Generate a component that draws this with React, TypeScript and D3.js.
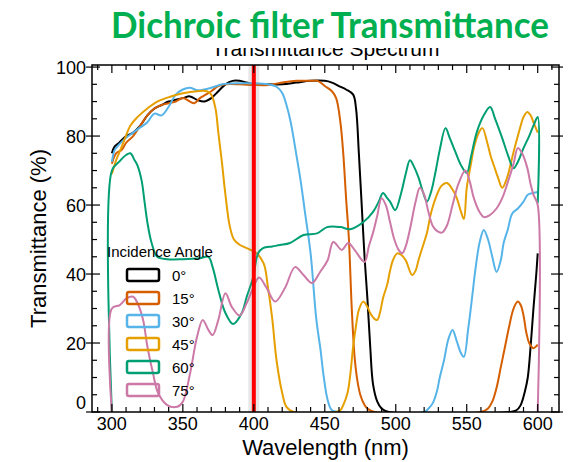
import { useRef, useEffect } from "react";
import * as d3 from "d3";

type Pt = [number, number];

// [wavelength nm, transmittance %]
const deg0: Pt[] = [
  [300, 75], [302, 77], [305, 78], [310, 80], [315, 81], [320, 83], [325, 86], [330, 88],
  [335, 89], [340, 90], [345, 90.5], [350, 91], [355, 91.5], [360, 90.5], [365, 90], [370, 91],
  [375, 93], [380, 95], [385, 96], [390, 96], [395, 95.5], [400, 95], [410, 95], [420, 95],
  [430, 95.5], [440, 96], [450, 96], [455, 95.5], [460, 94.5], [465, 93.5], [470, 92], [472, 88],
  [474, 75], [476, 60], [478, 45], [480, 33], [482, 19], [484, 8], [487, 3], [490, 1], [495, 0],
  [580, 0], [585, 0.5], [588, 2], [591, 6], [593, 10], [595, 19], [597, 30], [599, 40], [600, 46],
];

const deg15: Pt[] = [
  [300, 72], [303, 75], [307, 76], [310, 78], [315, 80], [320, 83], [325, 86], [330, 88],
  [335, 89], [340, 89.5], [345, 90], [350, 91], [355, 90], [358, 89.5], [362, 91], [366, 92],
  [370, 93], [375, 94.5], [380, 95], [390, 95], [400, 94.8], [410, 94.8], [420, 95.5], [430, 96],
  [440, 96], [445, 96], [450, 94.5], [455, 93], [458, 91], [461, 84], [463, 75], [465, 62],
  [467, 50], [469, 30], [471, 16], [473, 9], [475, 5], [478, 2], [480, 1], [485, 0], [560, 0],
  [565, 1], [568, 3], [571, 7], [574, 13], [577, 19], [580, 25], [583, 30], [586, 32], [588, 31],
  [590, 28], [592, 23], [594, 20], [597, 18.5], [600, 19.5],
];

const deg30: Pt[] = [
  [300, 72.5], [302, 76], [305, 77.5], [310, 79.5], [315, 81], [320, 82.5], [325, 84], [330, 86.5],
  [335, 86], [340, 88.5], [345, 92], [350, 93.5], [355, 94], [360, 93.3], [365, 93.5], [370, 94],
  [378, 95], [390, 95.3], [400, 95.3], [410, 95], [416, 94.3], [420, 92.5], [423, 89], [426, 84],
  [430, 74.5], [433, 67], [436, 58], [440, 46], [444, 27], [447, 18], [449, 11], [452, 3.5],
  [455, 0.5], [460, 0], [520, 0], [523, 1], [526, 2.5], [529, 6], [531, 10], [534, 15], [537, 21],
  [540, 23.8], [543, 20.5], [546, 17], [548, 16], [551, 24], [554, 34], [556, 41], [559, 49],
  [562, 52.8], [565, 50], [568, 45], [571, 40.6], [574, 44], [576, 49], [579, 53], [582, 57.5],
  [586, 59], [590, 61], [593, 63], [597, 63.5], [600, 63.8],
];

const deg45: Pt[] = [
  [300, 69], [303, 73], [305, 75], [308, 78], [313, 83], [318, 85.5], [325, 88], [332, 90],
  [341, 91.4], [350, 92.4], [360, 93], [367, 93], [370, 92], [373, 88], [375, 81], [377.5, 72.5],
  [380, 63], [383, 54], [386, 50], [390, 48.5], [395, 47.5], [402, 46], [407, 43], [410, 36],
  [413, 27], [416, 15], [420, 5.5], [423, 1.5], [428, 0], [458, 0], [461, 0.5], [463, 2],
  [466, 5.5], [468, 11], [470, 19], [472, 25], [474, 29.6], [477, 32], [480, 30.5], [482, 28.7],
  [485, 27], [487, 26.7], [489, 29], [491, 33], [494, 37], [496, 41], [498, 44], [501, 46],
  [504, 45.5], [507, 44], [511.5, 39.7], [514, 41], [516, 44], [519, 48], [522, 52], [525, 58],
  [529, 63], [532, 65.5], [536, 66.4], [540, 64.5], [543, 62], [546, 58], [548, 56], [550, 65],
  [553, 72], [555, 76.5], [558, 80.5], [561, 82.3], [564.5, 78], [567, 74], [569, 71.6], [572, 68],
  [575, 65], [578.5, 68], [581, 72], [583, 75.4], [586, 80], [588, 83], [590, 85.5], [592.7, 87],
  [595, 86], [597, 84], [600, 81],
];

const deg60: Pt[] = [
  [300, 0], [300, 70], [305, 72.5], [310, 74.5], [313, 75], [316, 73], [318, 71.5], [321, 67],
  [323, 61], [325, 55], [328, 49], [332, 45], [339, 44.3], [350, 44.3], [362, 44.6], [368, 45],
  [371, 42], [375, 35.4], [380, 28.7], [385.5, 25.5], [391.5, 28.7], [395, 33.4], [399.5, 39],
  [403, 46], [406.5, 47.5], [413, 48], [418.5, 48.4], [425.5, 49], [435, 51.3], [444.6, 51.8],
  [451.6, 53.6], [461, 53.6], [468, 53], [477, 55], [484, 58], [488, 61], [491, 63.5], [494, 62],
  [496, 61], [499.6, 58.5], [504, 63.8], [507, 69], [510, 73], [513, 71], [516, 68], [519, 64],
  [522, 61], [525, 64], [528, 69.6], [531, 76], [535, 82.3], [538, 79.5], [542, 75.4], [546, 71.5],
  [550, 69.3], [553, 74], [557, 81], [562, 86], [566.5, 88.4], [570, 85], [575, 79.4], [579, 74.5],
  [583, 70.7], [586, 72.5], [590, 76.5], [594, 80], [597, 83], [600, 85.5], [600, 60.5],
];

const deg75: Pt[] = [
  [300, 0], [300, 30], [305.6, 31], [310.5, 33], [315, 33.4], [318, 31.6], [322, 26.7], [325, 19],
  [329, 11.2], [332.6, 5.5], [339, 2], [346, 1.5], [350, 3], [355, 11], [360, 21.8], [364, 26.7],
  [368, 23.8], [371, 22.3], [375, 26.7], [380, 34.4], [384.6, 30.4], [390, 28], [395, 31.6],
  [399.5, 36], [403.7, 39], [409, 36], [415, 32], [422, 36], [429, 42], [435, 39.7], [441, 37.4],
  [446.7, 40.6], [452, 44], [456, 49.3], [462, 47], [466.5, 49], [471, 47], [478, 43.5], [481, 48],
  [484, 52], [487, 57], [490, 62], [493, 60], [496, 55], [499, 50], [502, 47], [504.5, 46],
  [507, 48], [510, 53], [514, 61], [517, 65], [520, 63], [523, 58], [526, 54], [529, 52.5],
  [532.5, 52], [536, 54], [540, 60], [544, 66], [549, 70], [552, 67], [555, 62], [559, 58],
  [562, 56.5], [566, 57], [571, 59], [575, 62], [579, 66.7], [583, 72], [586, 76.5], [589, 75],
  [592.7, 70.7], [595, 66], [597, 63], [600, 60], [600, 0],
];

const seriesNames = ["0°", "15°", "30°", "45°", "60°", "75°"];
const seriesData = [deg0, deg15, deg30, deg45, deg60, deg75];
const seriesColors = ["#000000", "#D55E00", "#56B4E9", "#E69F00", "#009E73", "#CC79A7"];

const xTicks = [300, 350, 400, 450, 500, 550, 600];
const yTicks = [0, 20, 40, 60, 80, 100];
const markerWavelength = 400;

export default function App() {
  const svgRef = useRef<SVGSVGElement>(null);

  useEffect(() => {
    if (!svgRef.current) return;
    const svg = d3.select(svgRef.current);
    svg.selectAll("*").remove();

    const W = 572, H = 462;
    const left = 92, right = 559, top = 65, bottom = 412;
    const font = "'Liberation Sans', Arial, sans-serif";

    svg.attr("width", W).attr("height", H);
    svg.append("rect").attr("width", W).attr("height", H).attr("fill", "#fff");

    const x = d3.scaleLinear().domain([286, 615]).range([left, right]);
    const y = d3.scaleLinear().domain([0, 100.6]).range([bottom, top]);

    // Big green title
    svg.append("text")
      .attr("x", 111).attr("y", 38)
      .attr("font-family", "Lato, 'Open Sans', sans-serif")
      .attr("font-weight", 700).attr("font-size", 36)
      .attr("fill", "#00B050")
      .attr("textLength", 438).attr("lengthAdjust", "spacingAndGlyphs")
      .text("Dichroic filter Transmittance");

    // Plot title, mostly hidden behind the big title
    const defs = svg.append("defs");
    defs.append("clipPath").attr("id", "subclip")
      .append("rect").attr("x", 0).attr("y", 48).attr("width", W).attr("height", 30);
    svg.append("text")
      .attr("clip-path", "url(#subclip)")
      .attr("x", (left + right) / 2).attr("y", 56)
      .attr("text-anchor", "middle")
      .attr("font-family", font).attr("font-size", 21)
      .text("Transmittance Spectrum");

    defs.append("clipPath").attr("id", "plotclip")
      .append("rect").attr("x", left).attr("y", top).attr("width", right - left).attr("height", bottom - top);

    // Curves
    const line = d3.line<Pt>()
      .x((d) => x(d[0]))
      .y((d) => y(d[1]))
      .curve(d3.curveCatmullRom.alpha(0.5));

    const g = svg.append("g").attr("clip-path", "url(#plotclip)");
    seriesData.forEach((data, i) => {
      g.append("path")
        .attr("d", line(data))
        .attr("fill", "none")
        .attr("stroke", seriesColors[i])
        .attr("stroke-width", 2)
        .attr("stroke-linejoin", "round");
    });

    // Marker line at 400 nm
    svg.append("line")
      .attr("x1", x(markerWavelength)).attr("x2", x(markerWavelength))
      .attr("y1", top).attr("y2", bottom)
      .attr("stroke", "#888").attr("stroke-opacity", 0.2).attr("stroke-width", 11);
    svg.append("line")
      .attr("x1", x(markerWavelength)).attr("x2", x(markerWavelength))
      .attr("y1", top).attr("y2", bottom)
      .attr("stroke", "#FF0000").attr("stroke-width", 4);

    // Ticks
    const tk = svg.append("g").attr("stroke", "#000").attr("stroke-width", 1.2);
    d3.range(290, 611, 10).forEach((v) => {
      const major = v % 50 === 0;
      const len = major ? 8 : 5;
      tk.append("line").attr("x1", x(v)).attr("x2", x(v)).attr("y1", bottom).attr("y2", bottom - len);
      tk.append("line").attr("x1", x(v)).attr("x2", x(v)).attr("y1", top).attr("y2", top + len);
    });
    d3.range(0, 101, 5).forEach((v) => {
      const major = v % 20 === 0;
      const len = major ? 8 : 5;
      tk.append("line").attr("y1", y(v)).attr("y2", y(v)).attr("x1", left - (major ? 6 : 0)).attr("x2", left + len);
      tk.append("line").attr("y1", y(v)).attr("y2", y(v)).attr("x1", right - len).attr("x2", right + (major ? 4 : 0));
    });

    // Frame
    svg.append("rect")
      .attr("x", left).attr("y", top)
      .attr("width", right - left).attr("height", bottom - top)
      .attr("fill", "none").attr("stroke", "#000").attr("stroke-width", 1.5);

    // Tick labels
    svg.append("g").selectAll("text").data(xTicks).join("text")
      .attr("x", (d) => x(d)).attr("y", 430)
      .attr("text-anchor", "middle")
      .attr("font-family", font).attr("font-size", 18)
      .text((d) => d);
    svg.append("g").selectAll("text").data(yTicks).join("text")
      .attr("x", 86).attr("y", (d) => y(d) + (d === 0 ? -3 : 6.5))
      .attr("text-anchor", "end")
      .attr("font-family", font).attr("font-size", 18)
      .text((d) => d);

    // Axis titles
    svg.append("text")
      .attr("x", (left + right) / 2).attr("y", 455)
      .attr("text-anchor", "middle")
      .attr("font-family", font).attr("font-size", 22)
      .text("Wavelength (nm)");
    svg.append("text")
      .attr("transform", `translate(46,${(top + bottom) / 2}) rotate(-90)`)
      .attr("text-anchor", "middle")
      .attr("font-family", font).attr("font-size", 22)
      .text("Transmittance (%)");

    // Legend
    const lg = svg.append("g");
    lg.append("text")
      .attr("x", 107).attr("y", 257)
      .attr("font-family", font).attr("font-size", 15)
      .text("Incidence Angle");
    seriesNames.forEach((name, i) => {
      const cy = 275 + i * 23;
      lg.append("rect")
        .attr("x", 127).attr("y", cy - 6)
        .attr("width", 32).attr("height", 12).attr("rx", 2)
        .attr("fill", "none").attr("stroke", seriesColors[i]).attr("stroke-width", 2.5);
      lg.append("text")
        .attr("x", 172).attr("y", cy + 5.5)
        .attr("font-family", font).attr("font-size", 15)
        .text(name);
    });
  }, []);

  return <svg ref={svgRef} style={{ position: "absolute", left: 0, top: 0, display: "block" }} />;
}
